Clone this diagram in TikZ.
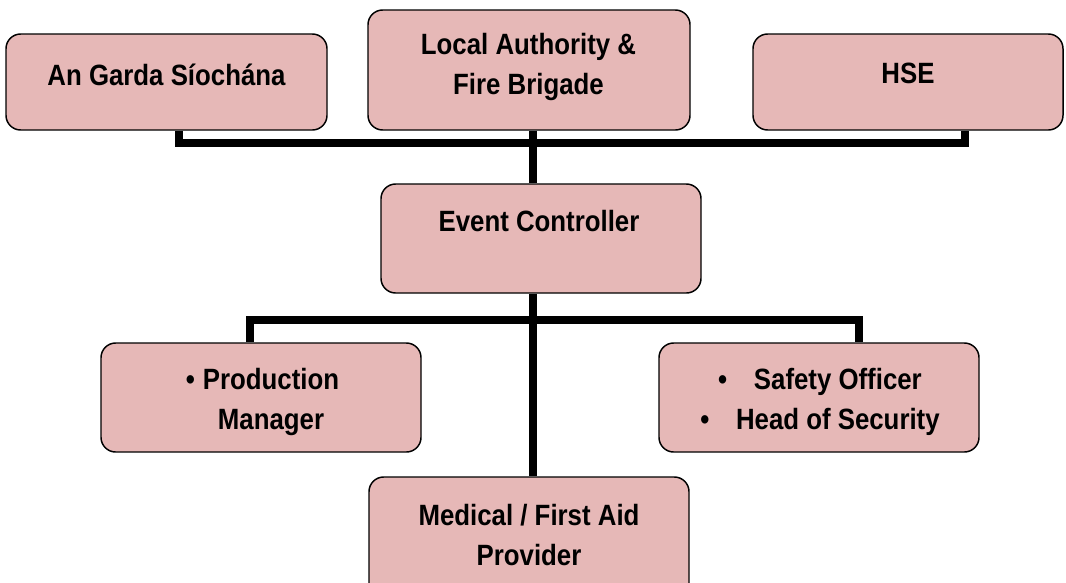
\documentclass[tikz,border=0pt]{standalone}
\usepackage{fontspec}
\setmainfont{Liberation Sans}[FakeStretch=0.88]
\definecolor{boxfill}{HTML}{E6B8B7}
\begin{document}
\begin{tikzpicture}[x=0.75pt,y=-0.75pt,
  box/.style={draw=black, line width=1.1pt, fill=boxfill, rounded corners=11pt, inner sep=0pt},
  txt/.style={font=\fontsize{22}{30}\selectfont\bfseries, align=center, inner sep=0pt, text=black},
  conn/.style={draw=black, line width=6pt, line join=miter}]
\useasboundingbox (0,0) rectangle (1066,582);
% boxes
\node[box, minimum width=240.75pt, minimum height=72pt] (garda) at (166.5,82) {};
\node[box, minimum width=241.5pt, minimum height=90pt] (local) at (529,70) {};
\node[box, minimum width=232.5pt, minimum height=72pt] (hse) at (908,82) {};
\node[box, minimum width=240pt, minimum height=81.75pt] (event) at (541,238.5) {};
\node[box, minimum width=240pt, minimum height=81.75pt] (prod) at (261,397.5) {};
\node[box, minimum width=240pt, minimum height=81.75pt] (safety) at (819,397.5) {};
\node[box, minimum width=240pt, minimum height=94.5pt] (medical) at (529,540) {};
% texts
\node[txt] (tgarda) at (166.5,75) {An Garda Síochána};
\node[txt] (tlocal) at (528.5,67) {Local Authority \&\\Fire Brigade};
\node[txt] (thse) at (908,73) {HSE};
\node[txt] (tevent) at (539,221) {Event Controller};
\node[txt] (tprod) at (271,402) {\llap{\textbullet\hspace{6pt}}Production\\Manager};
\node[txt] (tsafety) at (820,402) {\textbullet\hspace{20pt}Safety Officer\\\textbullet\hspace{20pt}Head of Security};
\node[txt] (tmedical) at (529,535) {Medical / First Aid\\Provider};
% connector positions
\coordinate (xg) at (179,0);
\coordinate (xh) at (965,0);
\coordinate (spine) at (533,0);
\coordinate (xp) at (250,0);
\coordinate (xs) at (859,0);
\coordinate (bt) at (0,143);
\coordinate (bl) at (0,320);
% connectors
\draw[conn] (garda.south -| xg) |- (bt -| xh) -- (hse.south -| xh);
\draw[conn] (local.south -| spine) -- (event.north -| spine);
\draw[conn] (event.south -| spine) -- (medical.north -| spine);
\draw[conn] (prod.north -| xp) |- (bl -| xs) -- (safety.north -| xs);
\end{tikzpicture}
\end{document}
